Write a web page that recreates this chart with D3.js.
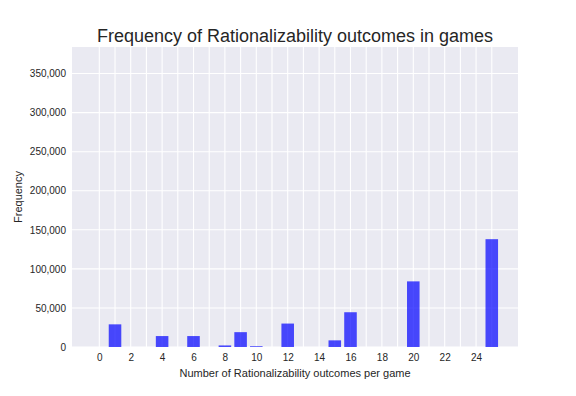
<html lang="en">
<head>
    <meta charset="utf-8">
    <title>Frequency of Rationalizability outcomes</title>
    <script src="https://cdn.jsdelivr.net/npm/d3@7"></script>
    <style type="text/css">
        body { margin: 0; background: #fff; }
        svg { font-family: "Liberation Sans", Arial, sans-serif; }
        .tick text { fill: #262626; font-size: 10px; }
        .axis path, .axis line { display: none; }
        .grid line { stroke: #fff; stroke-width: 1.1px; }
    </style>
</head>
<body>
<script type="text/javascript">

    // outcome counts per game (bar positions) and how many games had that count
    var outcomes = [1, 4, 6, 8, 9, 10, 12, 15, 16, 20, 25];
    var frequency = [29000, 14000, 14000, 2000, 19000, 1000, 30000, 8500, 44500, 84000, 138000];
    var yTicks = [0, 50000, 100000, 150000, 200000, 250000, 300000, 350000];
    var xTicks = d3.range(0, 26);

    var margin = {top: 47, right: 58, bottom: 49, left: 72},
        width = 576 - margin.left - margin.right,
        height = 396 - margin.top - margin.bottom;

    var svg = d3.select("body").append("svg")
        .attr("width", 576)
        .attr("height", 396);

    var g = svg.append("g")
        .attr("transform", "translate(" + margin.left + "," + margin.top + ")");

    var x = d3.scaleLinear().domain([-1.74, 26.67]).range([0, width]);
    var y = d3.scaleLinear().domain([0, 384000]).range([height, 0]);

    g.append("rect")
        .attr("width", width)
        .attr("height", height)
        .attr("fill", "#eaeaf2");

    // grid
    g.append("g").attr("class", "grid")
        .selectAll("line").data(yTicks).enter().append("line")
        .attr("x1", 0).attr("x2", width)
        .attr("y1", function (d) { return y(d); })
        .attr("y2", function (d) { return y(d); });

    g.append("g").attr("class", "grid")
        .selectAll("line").data(xTicks).enter().append("line")
        .attr("y1", 0).attr("y2", height)
        .attr("x1", function (d) { return x(d); })
        .attr("x2", function (d) { return x(d); });

    // bars
    var barW = x(0.8) - x(0);
    g.selectAll(".bar")
        .data(outcomes).enter().append("rect")
        .attr("class", "bar")
        .attr("x", function (d) { return x(d) - barW / 2; })
        .attr("width", barW)
        .attr("y", function (d, i) { return y(frequency[i]); })
        .attr("height", function (d, i) { return height - y(frequency[i]); })
        .attr("fill", "blue")
        .attr("fill-opacity", 0.7);

    // axes
    g.append("g")
        .attr("class", "axis")
        .attr("transform", "translate(0," + height + ")")
        .call(d3.axisBottom(x).tickValues(xTicks).tickSize(0).tickPadding(7)
            .tickFormat(function (d) { return d % 2 === 0 ? d : ""; }));

    g.append("g")
        .attr("class", "axis")
        .call(d3.axisLeft(y).tickValues(yTicks).tickSize(0).tickPadding(6)
            .tickFormat(d3.format(",")));

    // labels
    svg.append("text")
        .attr("x", margin.left + width / 2)
        .attr("y", 42)
        .attr("text-anchor", "middle")
        .style("font-size", "18px")
        .style("fill", "#262626")
        .text("Frequency of Rationalizability outcomes in games");

    svg.append("text")
        .attr("x", margin.left + width / 2)
        .attr("y", 377)
        .attr("text-anchor", "middle")
        .style("font-size", "11px")
        .style("fill", "#262626")
        .text("Number of Rationalizability outcomes per game");

    svg.append("text")
        .attr("transform", "translate(22," + (margin.top + height / 2) + ") rotate(-90)")
        .attr("text-anchor", "middle")
        .style("font-size", "11px")
        .style("fill", "#262626")
        .text("Frequency");

</script>
</body>
</html>
